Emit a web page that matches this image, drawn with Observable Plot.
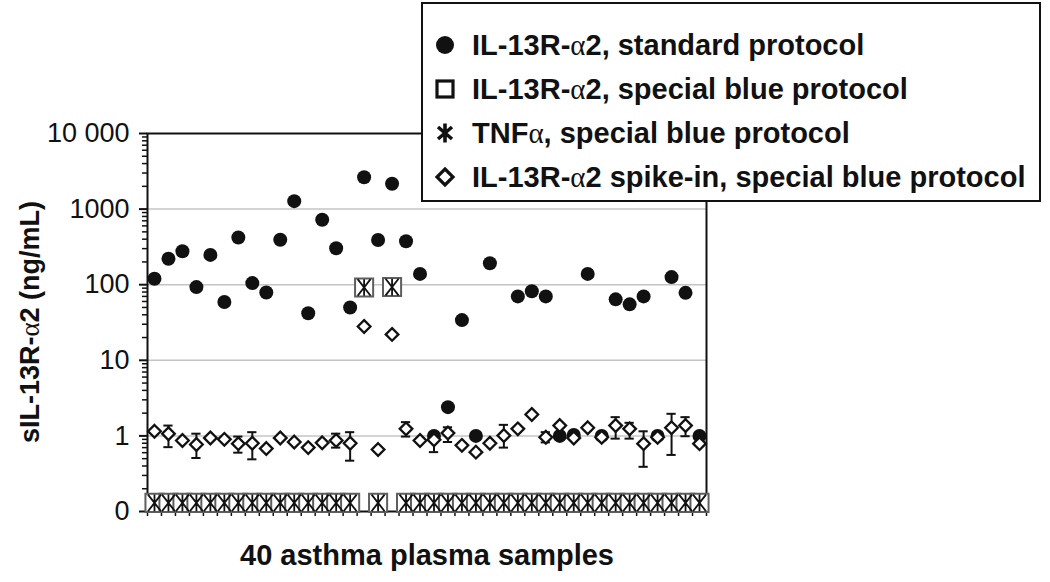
<!DOCTYPE html>
<html><head><meta charset="utf-8">
<script src="https://cdn.jsdelivr.net/npm/d3@7"></script>
<script src="https://cdn.jsdelivr.net/npm/@observablehq/plot@0.6"></script>
<style>
body{margin:0;background:#fff;}
#wrap{position:relative;width:1050px;height:582px;font-family:"Liberation Sans",Arial,sans-serif;color:#111;}
#legend{position:absolute;left:421px;top:2px;width:620px;height:200px;border:2px solid #111;background:#fff;box-sizing:border-box;}
.item{position:absolute;left:8px;height:36px;display:flex;align-items:center;font-weight:bold;font-size:29px;white-space:nowrap;}
.item svg{width:28px;height:28px;margin-right:13px;}
.al{font-family:"Liberation Serif","Times New Roman",serif;font-weight:normal;}
.title{position:absolute;font-weight:bold;white-space:nowrap;}
</style></head>
<body><div id="wrap"></div>
<script>
// ---- data ----
const samples = ["S1","S2","S3","S4","S5","S6","S7","S8","S9","S10","S11","S12","S13","S14","S15","S16","S17","S18","S19","S20",
  "S21","S22","S23","S24","S25","S26","S27","S28","S29","S30","S31","S32","S33","S34","S35","S36","S37","S38","S39","S40"];
const standard = [120,220,277,93,248,59,421,105,79,393,1273,42,722,304,50,2642,390,2160,376,139,
  1.0,2.4,34,1.0,192,null,70,82,70,1.0,1.03,139,1.0,64,55,70,1.0,126,78,1.0];
// "0" (below detection) is drawn at the axis floor
const specialBlue = [0.13,0.13,0.13,0.13,0.13,0.13,0.13,0.13,0.13,0.13,0.13,0.13,0.13,0.13,0.13,92,0.13,93,0.13,0.13,
  0.13,0.13,0.13,0.13,0.13,0.13,0.13,0.13,0.13,0.13,0.13,0.13,0.13,0.13,0.13,0.13,0.13,0.13,0.13,0.13];
const tnf = [0.13,0.13,0.13,0.13,0.13,0.13,0.13,0.13,0.13,0.13,0.13,0.13,0.13,0.13,0.13,92,0.13,93,0.13,0.13,
  0.13,0.13,0.13,0.13,0.13,0.13,0.13,0.13,0.13,0.13,0.13,0.13,0.13,0.13,0.13,0.13,0.13,0.13,0.13,0.13];
const spike = [1.15,1.07,0.87,0.77,0.94,0.90,0.79,0.80,0.68,0.94,0.83,0.70,0.81,0.87,0.80,28,0.66,22,1.24,0.87,
  0.89,1.09,0.75,0.61,0.80,1.01,1.24,1.92,0.96,1.37,0.94,1.28,0.96,1.37,1.24,0.79,0.96,1.28,1.37,0.79];
const spikeLo = [null,0.71,null,0.51,null,null,0.60,0.49,null,null,null,null,null,0.70,0.47,null,null,null,0.98,null,
  0.61,0.83,null,null,null,0.70,null,null,0.82,null,null,null,null,0.92,0.92,0.39,null,0.56,0.99,null];
const spikeHi = [null,1.37,null,1.07,null,null,0.98,1.12,null,null,null,null,null,1.07,1.12,null,null,null,1.52,null,
  1.12,1.30,null,null,null,1.40,null,null,1.12,null,null,null,null,1.77,1.49,1.15,null,1.96,1.77,null];
const yTicks = [0.1,1,10,100,1000,10000];
const yTickLabels = ["0","1","10","100","1000","10 000"];
const gridVals = [1,10,100,1000];
const legendLabels = ["IL-13R-α2, standard protocol","IL-13R-α2, special blue protocol","TNFα, special blue protocol","IL-13R-α2 spike-in, special blue protocol"];

// ---- build ----
const rows = samples.map((s,i)=>({x:i, std:standard[i], blue:specialBlue[i], tnf:tnf[i], spike:spike[i], lo:spikeLo[i], hi:spikeHi[i]}));
const bars = rows.filter(d=>d.lo!=null);
const labelMap = new Map(yTicks.map((v,i)=>[v,yTickLabels[i]]));
const minorTicks = [];
for (let e=-1;e<4;e++) for (let m=2;m<10;m++) minorTicks.push(m*Math.pow(10,e));
const xTicks = samples.map((s,i)=>i-0.5).concat([samples.length-0.5]);
const asterisk = {draw(ctx,size){const r=Math.sqrt(size/Math.PI);const w=r*0.78;
  ctx.moveTo(0,-r);ctx.lineTo(0,r);ctx.moveTo(-w,-r);ctx.lineTo(w,r);ctx.moveTo(-w,r);ctx.lineTo(w,-r);}};

const plot = Plot.plot({
  width:1050, height:582, marginLeft:147, marginRight:344, marginTop:133, marginBottom:71,
  style:{fontFamily:"Liberation Sans, Arial, sans-serif", fontSize:"27px", color:"#111", background:"transparent", overflow:"visible"},
  x:{domain:[-0.5,39.5], axis:null},
  y:{type:"log", domain:[0.1,10000], axis:null},
  marks:[
    Plot.ruleY(gridVals, {stroke:"#c4c4c4", strokeWidth:1.5}),
    Plot.axisY({ticks:minorTicks, tickSize:5, tickFormat:()=>"", strokeWidth:1.5, label:null}),
    Plot.axisY({ticks:yTicks, tickSize:8, tickPadding:10, tickFormat:d=>labelMap.get(d), strokeWidth:2, label:null}),
    Plot.axisX({ticks:xTicks, tickSize:5, tickFormat:()=>"", strokeWidth:1.5, label:null}),
    Plot.frame({stroke:"#111", strokeWidth:2}),
    Plot.dot(rows.filter(d=>d.std!=null), {x:"x", y:"std", r:7, fill:"#111", stroke:"none"}),
    Plot.ruleX(bars, {x:"x", y1:"lo", y2:"hi", stroke:"#111", strokeWidth:2}),
    Plot.ruleY(bars, {y:"lo", x1:d=>d.x-0.33, x2:d=>d.x+0.33, stroke:"#111", strokeWidth:2}),
    Plot.ruleY(bars, {y:"hi", x1:d=>d.x-0.33, x2:d=>d.x+0.33, stroke:"#111", strokeWidth:2}),
    Plot.dot(rows, {x:"x", y:"spike", symbol:"diamond2", r:5.7, fill:"#fff", stroke:"#111", strokeWidth:2.3}),
    Plot.dot(rows, {x:"x", y:"blue", symbol:"square", r:10.2, fill:"#fff", stroke:"#5e5e5e", strokeWidth:2}),
    Plot.dot(rows, {x:"x", y:"tnf", symbol:asterisk, r:8.3, fill:"none", stroke:"#111", strokeWidth:1.8})
  ]
});
const wrap = document.getElementById("wrap");
wrap.appendChild(plot);

// titles
function withAlpha(t){return t.replace(/α/g,'<span class="al">α</span>');}
const yt = document.createElement("div");
yt.className="title"; yt.style.fontSize="27px"; yt.innerHTML = withAlpha("sIL-13R-α2 (ng/mL)");
yt.style.left="30px"; yt.style.top="322px"; yt.style.transform="translate(-50%,-50%) rotate(-90deg)";
wrap.appendChild(yt);
const xt = document.createElement("div");
xt.className="title"; xt.style.fontSize="29px"; xt.textContent = "40 asthma plasma samples";
xt.style.left="427px"; xt.style.top="555px"; xt.style.transform="translate(-50%,-50%)";
wrap.appendChild(xt);

// legend
const syms = [
  '<circle cx="14" cy="14" r="9" fill="#111"/>',
  '<rect x="6" y="6" width="16" height="16" fill="#fff" stroke="#111" stroke-width="3.2"/>',
  '<path d="M14 4.5V23.5M7 8L21 20M7 20L21 8" stroke="#111" stroke-width="3.6" fill="none"/>',
  '<path d="M14 6L22 14L14 22L6 14Z" fill="#fff" stroke="#111" stroke-width="3.2"/>'
];
const lg = document.createElement("div"); lg.id="legend";
legendLabels.forEach((t,i)=>{
  const it=document.createElement("div"); it.className="item";
  it.style.top=(23+44*i)+"px";
  it.innerHTML='<svg viewBox="0 0 28 28">'+syms[i]+'</svg><span>'+withAlpha(t)+'</span>';
  lg.appendChild(it);
});
wrap.appendChild(lg);
</script></body></html>
